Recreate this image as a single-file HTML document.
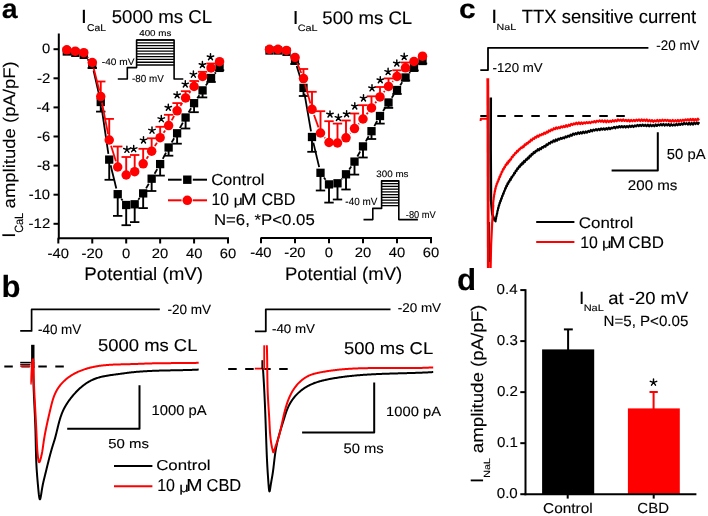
<!DOCTYPE html>
<html><head><meta charset="utf-8"><style>
html,body{margin:0;padding:0;background:#fff;overflow:hidden;}
svg{display:block;will-change:transform;-webkit-font-smoothing:antialiased;text-rendering:geometricPrecision;font-family:"Liberation Sans",sans-serif;font-kerning:none;font-variant-ligatures:none;}
text{stroke:currentColor;stroke-width:0.12px;}
</style></head><body>
<svg width="708" height="516" viewBox="0 0 708 516">
<rect width="708" height="516" fill="#fff"/>
<line x1="58.8" y1="33.5" x2="58.8" y2="239.3" stroke="#000" stroke-width="2"/>
<line x1="57.8" y1="238.3" x2="229" y2="238.3" stroke="#000" stroke-width="2"/>
<line x1="53.5" y1="49.2" x2="58.8" y2="49.2" stroke="#000" stroke-width="2"/>
<text transform="matrix(1.08,0,0,1,41.92,52.72)" font-size="13.7">0</text>
<line x1="53.5" y1="78.3" x2="58.8" y2="78.3" stroke="#000" stroke-width="2"/>
<text transform="matrix(1.08,0,0,1,36.97,82.95)" font-size="13.89">-2</text>
<line x1="53.5" y1="107.4" x2="58.8" y2="107.4" stroke="#000" stroke-width="2"/>
<text transform="matrix(1.08,0,0,1,36.47,112.05)" font-size="14.1">-4</text>
<line x1="53.5" y1="136.5" x2="58.8" y2="136.5" stroke="#000" stroke-width="2"/>
<text transform="matrix(1.08,0,0,1,37.05,141.02)" font-size="13.7">-6</text>
<line x1="53.5" y1="165.6" x2="58.8" y2="165.6" stroke="#000" stroke-width="2"/>
<text transform="matrix(1.08,0,0,1,37.05,170.12)" font-size="13.7">-8</text>
<line x1="53.5" y1="194.7" x2="58.8" y2="194.7" stroke="#000" stroke-width="2"/>
<text transform="matrix(1.08,0,0,1,28.73,199.22)" font-size="13.7">-10</text>
<line x1="53.5" y1="223.8" x2="58.8" y2="223.8" stroke="#000" stroke-width="2"/>
<text transform="matrix(1.08,0,0,1,28.6,228.45)" font-size="13.89">-12</text>
<line x1="58.32" y1="238.3" x2="58.32" y2="243.5" stroke="#000" stroke-width="2"/>
<text transform="matrix(1.08,0,0,1,47.55,257.57)" font-size="13.7">-40</text>
<line x1="92.26" y1="238.3" x2="92.26" y2="243.5" stroke="#000" stroke-width="2"/>
<text transform="matrix(1.08,0,0,1,81.49,257.57)" font-size="13.7">-20</text>
<line x1="126.2" y1="238.3" x2="126.2" y2="243.5" stroke="#000" stroke-width="2"/>
<text transform="matrix(1.08,0,0,1,122.07,257.57)" font-size="13.7">0</text>
<line x1="160.14" y1="238.3" x2="160.14" y2="243.5" stroke="#000" stroke-width="2"/>
<text transform="matrix(1.08,0,0,1,151.8,257.57)" font-size="13.7">20</text>
<line x1="194.08" y1="238.3" x2="194.08" y2="243.5" stroke="#000" stroke-width="2"/>
<text transform="matrix(1.08,0,0,1,185.94,257.57)" font-size="13.7">40</text>
<line x1="228.02" y1="238.3" x2="228.02" y2="243.5" stroke="#000" stroke-width="2"/>
<text transform="matrix(1.08,0,0,1,219.68,257.57)" font-size="13.7">60</text>
<line x1="260.5" y1="238" x2="432" y2="238" stroke="#000" stroke-width="2"/>
<line x1="261" y1="238" x2="261" y2="243.3" stroke="#000" stroke-width="2"/>
<text transform="matrix(1.08,0,0,1,250.23,257.37)" font-size="13.7">-40</text>
<line x1="295" y1="238" x2="295" y2="243.3" stroke="#000" stroke-width="2"/>
<text transform="matrix(1.08,0,0,1,284.23,257.37)" font-size="13.7">-20</text>
<line x1="329" y1="238" x2="329" y2="243.3" stroke="#000" stroke-width="2"/>
<text transform="matrix(1.08,0,0,1,324.87,257.37)" font-size="13.7">0</text>
<line x1="363" y1="238" x2="363" y2="243.3" stroke="#000" stroke-width="2"/>
<text transform="matrix(1.08,0,0,1,354.66,257.37)" font-size="13.7">20</text>
<line x1="397" y1="238" x2="397" y2="243.3" stroke="#000" stroke-width="2"/>
<text transform="matrix(1.08,0,0,1,388.86,257.37)" font-size="13.7">40</text>
<line x1="431" y1="238" x2="431" y2="243.3" stroke="#000" stroke-width="2"/>
<text transform="matrix(1.08,0,0,1,422.66,257.37)" font-size="13.7">60</text>
<line x1="87.53" y1="59.22" x2="88.51" y2="60.38" stroke="#000" stroke-width="1.8"/>
<line x1="93.55" y1="70.45" x2="99.46" y2="96.35" stroke="#000" stroke-width="1.8"/>
<line x1="101.59" y1="107.74" x2="108.38" y2="153.86" stroke="#000" stroke-width="1.8"/>
<line x1="110.61" y1="165.23" x2="116.33" y2="188.57" stroke="#000" stroke-width="1.8"/>
<line x1="121.3" y1="198.76" x2="122.62" y2="200.44" stroke="#000" stroke-width="1.8"/>
<line x1="138.25" y1="199.72" x2="139.61" y2="197.98" stroke="#000" stroke-width="1.8"/>
<line x1="146.07" y1="188.38" x2="148.76" y2="183.72" stroke="#000" stroke-width="1.8"/>
<line x1="154.57" y1="173.69" x2="157.23" y2="169.11" stroke="#000" stroke-width="1.8"/>
<line x1="162.78" y1="158.94" x2="165.99" y2="152.66" stroke="#000" stroke-width="1.8"/>
<line x1="171.6" y1="142.52" x2="174.13" y2="138.28" stroke="#000" stroke-width="1.8"/>
<line x1="179.85" y1="128.19" x2="182.85" y2="122.61" stroke="#000" stroke-width="1.8"/>
<line x1="188.55" y1="112.51" x2="191.12" y2="108.19" stroke="#000" stroke-width="1.8"/>
<line x1="197.28" y1="98.37" x2="199.36" y2="95.23" stroke="#000" stroke-width="1.8"/>
<line x1="205.84" y1="85.61" x2="207.77" y2="82.79" stroke="#000" stroke-width="1.8"/>
<line x1="214.78" y1="73.56" x2="215.8" y2="72.34" stroke="#000" stroke-width="1.8"/>
<line x1="92.26" y1="64.8" x2="92.26" y2="68" stroke="#000" stroke-width="1.9"/>
<line x1="87.56" y1="68" x2="96.96" y2="68" stroke="#000" stroke-width="1.8"/>
<line x1="100.75" y1="102" x2="100.75" y2="111.6" stroke="#000" stroke-width="1.9"/>
<line x1="96.05" y1="111.6" x2="105.45" y2="111.6" stroke="#000" stroke-width="1.8"/>
<line x1="109.23" y1="159.6" x2="109.23" y2="179.8" stroke="#000" stroke-width="1.9"/>
<line x1="104.53" y1="179.8" x2="113.93" y2="179.8" stroke="#000" stroke-width="1.8"/>
<line x1="117.72" y1="194.2" x2="117.72" y2="215.9" stroke="#000" stroke-width="1.9"/>
<line x1="113.02" y1="215.9" x2="122.42" y2="215.9" stroke="#000" stroke-width="1.8"/>
<line x1="126.2" y1="205" x2="126.2" y2="225.2" stroke="#000" stroke-width="1.9"/>
<line x1="121.5" y1="225.2" x2="130.9" y2="225.2" stroke="#000" stroke-width="1.8"/>
<line x1="134.69" y1="204.3" x2="134.69" y2="222.1" stroke="#000" stroke-width="1.9"/>
<line x1="129.99" y1="222.1" x2="139.38" y2="222.1" stroke="#000" stroke-width="1.8"/>
<line x1="143.17" y1="193.4" x2="143.17" y2="208.1" stroke="#000" stroke-width="1.9"/>
<line x1="138.47" y1="208.1" x2="147.87" y2="208.1" stroke="#000" stroke-width="1.8"/>
<line x1="151.66" y1="178.7" x2="151.66" y2="191" stroke="#000" stroke-width="1.9"/>
<line x1="146.96" y1="191" x2="156.35" y2="191" stroke="#000" stroke-width="1.8"/>
<line x1="160.14" y1="164.1" x2="160.14" y2="175.6" stroke="#000" stroke-width="1.9"/>
<line x1="155.44" y1="175.6" x2="164.84" y2="175.6" stroke="#000" stroke-width="1.8"/>
<line x1="168.62" y1="147.5" x2="168.62" y2="155.7" stroke="#000" stroke-width="1.9"/>
<line x1="163.93" y1="155.7" x2="173.32" y2="155.7" stroke="#000" stroke-width="1.8"/>
<line x1="177.11" y1="133.3" x2="177.11" y2="143.7" stroke="#000" stroke-width="1.9"/>
<line x1="172.41" y1="143.7" x2="181.81" y2="143.7" stroke="#000" stroke-width="1.8"/>
<line x1="185.59" y1="117.5" x2="185.59" y2="128.5" stroke="#000" stroke-width="1.9"/>
<line x1="180.9" y1="128.5" x2="190.29" y2="128.5" stroke="#000" stroke-width="1.8"/>
<line x1="194.08" y1="103.2" x2="194.08" y2="112.2" stroke="#000" stroke-width="1.9"/>
<line x1="189.38" y1="112.2" x2="198.78" y2="112.2" stroke="#000" stroke-width="1.8"/>
<line x1="202.56" y1="90.4" x2="202.56" y2="97.4" stroke="#000" stroke-width="1.9"/>
<line x1="197.87" y1="97.4" x2="207.26" y2="97.4" stroke="#000" stroke-width="1.8"/>
<line x1="211.05" y1="78" x2="211.05" y2="82" stroke="#000" stroke-width="1.9"/>
<line x1="206.35" y1="82" x2="215.75" y2="82" stroke="#000" stroke-width="1.8"/>
<line x1="219.54" y1="67.9" x2="219.54" y2="70.2" stroke="#000" stroke-width="1.9"/>
<line x1="214.84" y1="70.2" x2="224.24" y2="70.2" stroke="#000" stroke-width="1.8"/>
<rect x="62.66" y="47.35" width="8.3" height="8.3" fill="#000"/>
<rect x="71.14" y="48.65" width="8.3" height="8.3" fill="#000"/>
<rect x="79.62" y="50.65" width="8.3" height="8.3" fill="#000"/>
<rect x="88.11" y="60.65" width="8.3" height="8.3" fill="#000"/>
<rect x="96.59" y="97.85" width="8.3" height="8.3" fill="#000"/>
<rect x="105.08" y="155.45" width="8.3" height="8.3" fill="#000"/>
<rect x="113.56" y="190.05" width="8.3" height="8.3" fill="#000"/>
<rect x="122.05" y="200.85" width="8.3" height="8.3" fill="#000"/>
<rect x="130.53" y="200.15" width="8.3" height="8.3" fill="#000"/>
<rect x="139.02" y="189.25" width="8.3" height="8.3" fill="#000"/>
<rect x="147.5" y="174.55" width="8.3" height="8.3" fill="#000"/>
<rect x="155.99" y="159.95" width="8.3" height="8.3" fill="#000"/>
<rect x="164.47" y="143.35" width="8.3" height="8.3" fill="#000"/>
<rect x="172.96" y="129.15" width="8.3" height="8.3" fill="#000"/>
<rect x="181.44" y="113.35" width="8.3" height="8.3" fill="#000"/>
<rect x="189.93" y="99.05" width="8.3" height="8.3" fill="#000"/>
<rect x="198.41" y="86.25" width="8.3" height="8.3" fill="#000"/>
<rect x="206.9" y="73.85" width="8.3" height="8.3" fill="#000"/>
<rect x="215.39" y="63.75" width="8.3" height="8.3" fill="#000"/>
<line x1="87.7" y1="57.24" x2="88.33" y2="57.96" stroke="#ff0000" stroke-width="1.8"/>
<line x1="93.71" y1="68.32" x2="99.3" y2="90.78" stroke="#ff0000" stroke-width="1.8"/>
<line x1="101.9" y1="102.49" x2="108.08" y2="134.11" stroke="#ff0000" stroke-width="1.8"/>
<line x1="111.03" y1="145.72" x2="115.92" y2="161.28" stroke="#ff0000" stroke-width="1.8"/>
<line x1="146.52" y1="158.82" x2="148.3" y2="156.18" stroke="#ff0000" stroke-width="1.8"/>
<line x1="154.85" y1="146.12" x2="156.95" y2="142.78" stroke="#ff0000" stroke-width="1.8"/>
<line x1="163.58" y1="132.79" x2="165.18" y2="130.51" stroke="#ff0000" stroke-width="1.8"/>
<line x1="171.61" y1="120.39" x2="174.13" y2="116.01" stroke="#ff0000" stroke-width="1.8"/>
<line x1="180.41" y1="105.79" x2="182.3" y2="102.91" stroke="#ff0000" stroke-width="1.8"/>
<line x1="189.18" y1="93.09" x2="190.5" y2="91.31" stroke="#ff0000" stroke-width="1.8"/>
<line x1="197.94" y1="81.91" x2="198.71" y2="80.99" stroke="#ff0000" stroke-width="1.8"/>
<line x1="100.75" y1="96.6" x2="100.75" y2="81.5" stroke="#ff0000" stroke-width="1.9"/>
<line x1="96.05" y1="81.5" x2="105.45" y2="81.5" stroke="#ff0000" stroke-width="1.8"/>
<line x1="109.23" y1="140" x2="109.23" y2="118.9" stroke="#ff0000" stroke-width="1.9"/>
<line x1="104.53" y1="118.9" x2="113.93" y2="118.9" stroke="#ff0000" stroke-width="1.8"/>
<line x1="117.72" y1="167" x2="117.72" y2="146.5" stroke="#ff0000" stroke-width="1.9"/>
<line x1="113.02" y1="146.5" x2="122.42" y2="146.5" stroke="#ff0000" stroke-width="1.8"/>
<line x1="126.2" y1="175" x2="126.2" y2="157" stroke="#ff0000" stroke-width="1.9"/>
<line x1="121.5" y1="157" x2="130.9" y2="157" stroke="#ff0000" stroke-width="1.8"/>
<line x1="134.69" y1="171.7" x2="134.69" y2="155" stroke="#ff0000" stroke-width="1.9"/>
<line x1="129.99" y1="155" x2="139.38" y2="155" stroke="#ff0000" stroke-width="1.8"/>
<line x1="143.17" y1="163.8" x2="143.17" y2="148.8" stroke="#ff0000" stroke-width="1.9"/>
<line x1="138.47" y1="148.8" x2="147.87" y2="148.8" stroke="#ff0000" stroke-width="1.8"/>
<line x1="151.66" y1="151.2" x2="151.66" y2="138.3" stroke="#ff0000" stroke-width="1.9"/>
<line x1="146.96" y1="138.3" x2="156.35" y2="138.3" stroke="#ff0000" stroke-width="1.8"/>
<line x1="160.14" y1="137.7" x2="160.14" y2="126.8" stroke="#ff0000" stroke-width="1.9"/>
<line x1="155.44" y1="126.8" x2="164.84" y2="126.8" stroke="#ff0000" stroke-width="1.8"/>
<line x1="168.62" y1="125.6" x2="168.62" y2="114.8" stroke="#ff0000" stroke-width="1.9"/>
<line x1="163.93" y1="114.8" x2="173.32" y2="114.8" stroke="#ff0000" stroke-width="1.8"/>
<line x1="177.11" y1="110.8" x2="177.11" y2="103.1" stroke="#ff0000" stroke-width="1.9"/>
<line x1="172.41" y1="103.1" x2="181.81" y2="103.1" stroke="#ff0000" stroke-width="1.8"/>
<line x1="185.59" y1="97.9" x2="185.59" y2="91.2" stroke="#ff0000" stroke-width="1.9"/>
<line x1="180.9" y1="91.2" x2="190.29" y2="91.2" stroke="#ff0000" stroke-width="1.8"/>
<line x1="194.08" y1="86.5" x2="194.08" y2="81" stroke="#ff0000" stroke-width="1.9"/>
<line x1="189.38" y1="81" x2="198.78" y2="81" stroke="#ff0000" stroke-width="1.8"/>
<line x1="202.56" y1="76.4" x2="202.56" y2="71.8" stroke="#ff0000" stroke-width="1.9"/>
<line x1="197.87" y1="71.8" x2="207.26" y2="71.8" stroke="#ff0000" stroke-width="1.8"/>
<line x1="211.05" y1="67.9" x2="211.05" y2="63.5" stroke="#ff0000" stroke-width="1.9"/>
<line x1="206.35" y1="63.5" x2="215.75" y2="63.5" stroke="#ff0000" stroke-width="1.8"/>
<circle cx="66.81" cy="49.8" r="4.75" fill="#f00"/>
<circle cx="75.29" cy="51.2" r="4.75" fill="#f00"/>
<circle cx="83.78" cy="52.7" r="4.75" fill="#f00"/>
<circle cx="92.26" cy="62.5" r="4.75" fill="#f00"/>
<circle cx="100.75" cy="96.6" r="4.75" fill="#f00"/>
<circle cx="109.23" cy="140" r="4.75" fill="#f00"/>
<circle cx="117.72" cy="167" r="4.75" fill="#f00"/>
<circle cx="126.2" cy="175" r="4.75" fill="#f00"/>
<circle cx="134.69" cy="171.7" r="4.75" fill="#f00"/>
<circle cx="143.17" cy="163.8" r="4.75" fill="#f00"/>
<circle cx="151.66" cy="151.2" r="4.75" fill="#f00"/>
<circle cx="160.14" cy="137.7" r="4.75" fill="#f00"/>
<circle cx="168.62" cy="125.6" r="4.75" fill="#f00"/>
<circle cx="177.11" cy="110.8" r="4.75" fill="#f00"/>
<circle cx="185.59" cy="97.9" r="4.75" fill="#f00"/>
<circle cx="194.08" cy="86.5" r="4.75" fill="#f00"/>
<circle cx="202.56" cy="76.4" r="4.75" fill="#f00"/>
<circle cx="211.05" cy="67.9" r="4.75" fill="#f00"/>
<circle cx="219.54" cy="61.7" r="4.75" fill="#f00"/>
<path d="M126.9,149.6 L126.9,146.2 M126.9,149.6 L130.13,148.55 M126.9,149.6 L128.9,152.35 M126.9,149.6 L124.9,152.35 M126.9,149.6 L123.67,148.55" stroke="#000" stroke-width="1.45" stroke-linecap="round" fill="none"/>
<path d="M133.7,148.9 L133.7,145.5 M133.7,148.9 L136.93,147.85 M133.7,148.9 L135.7,151.65 M133.7,148.9 L131.7,151.65 M133.7,148.9 L130.47,147.85" stroke="#000" stroke-width="1.45" stroke-linecap="round" fill="none"/>
<path d="M143.5,140.2 L143.5,136.8 M143.5,140.2 L146.73,139.15 M143.5,140.2 L145.5,142.95 M143.5,140.2 L141.5,142.95 M143.5,140.2 L140.27,139.15" stroke="#000" stroke-width="1.45" stroke-linecap="round" fill="none"/>
<path d="M152,130.4 L152,127 M152,130.4 L155.23,129.35 M152,130.4 L154,133.15 M152,130.4 L150,133.15 M152,130.4 L148.77,129.35" stroke="#000" stroke-width="1.45" stroke-linecap="round" fill="none"/>
<path d="M161.3,118.9 L161.3,115.5 M161.3,118.9 L164.53,117.85 M161.3,118.9 L163.3,121.65 M161.3,118.9 L159.3,121.65 M161.3,118.9 L158.07,117.85" stroke="#000" stroke-width="1.45" stroke-linecap="round" fill="none"/>
<path d="M168.3,107.5 L168.3,104.1 M168.3,107.5 L171.53,106.45 M168.3,107.5 L170.3,110.25 M168.3,107.5 L166.3,110.25 M168.3,107.5 L165.07,106.45" stroke="#000" stroke-width="1.45" stroke-linecap="round" fill="none"/>
<path d="M177.1,95 L177.1,91.6 M177.1,95 L180.33,93.95 M177.1,95 L179.1,97.75 M177.1,95 L175.1,97.75 M177.1,95 L173.87,93.95" stroke="#000" stroke-width="1.45" stroke-linecap="round" fill="none"/>
<path d="M185.3,84.2 L185.3,80.8 M185.3,84.2 L188.53,83.15 M185.3,84.2 L187.3,86.95 M185.3,84.2 L183.3,86.95 M185.3,84.2 L182.07,83.15" stroke="#000" stroke-width="1.45" stroke-linecap="round" fill="none"/>
<path d="M193.4,74.4 L193.4,71 M193.4,74.4 L196.63,73.35 M193.4,74.4 L195.4,77.15 M193.4,74.4 L191.4,77.15 M193.4,74.4 L190.17,73.35" stroke="#000" stroke-width="1.45" stroke-linecap="round" fill="none"/>
<path d="M202.4,64.8 L202.4,61.4 M202.4,64.8 L205.63,63.75 M202.4,64.8 L204.4,67.55 M202.4,64.8 L200.4,67.55 M202.4,64.8 L199.17,63.75" stroke="#000" stroke-width="1.45" stroke-linecap="round" fill="none"/>
<path d="M210.5,57 L210.5,53.6 M210.5,57 L213.73,55.95 M210.5,57 L212.5,59.75 M210.5,57 L208.5,59.75 M210.5,57 L207.27,55.95" stroke="#000" stroke-width="1.45" stroke-linecap="round" fill="none"/>
<line x1="290.55" y1="55.95" x2="290.95" y2="56.35" stroke="#000" stroke-width="1.8"/>
<line x1="296.72" y1="66.04" x2="301.78" y2="82.36" stroke="#000" stroke-width="1.8"/>
<line x1="304.49" y1="93.61" x2="311.01" y2="131.29" stroke="#000" stroke-width="1.8"/>
<line x1="313.34" y1="142.64" x2="319.16" y2="167.16" stroke="#000" stroke-width="1.8"/>
<line x1="323.93" y1="177.48" x2="325.57" y2="179.72" stroke="#000" stroke-width="1.8"/>
<line x1="341.48" y1="179.08" x2="342.02" y2="178.52" stroke="#000" stroke-width="1.8"/>
<line x1="349.23" y1="169.48" x2="351.27" y2="166.42" stroke="#000" stroke-width="1.8"/>
<line x1="357.33" y1="156.54" x2="360.17" y2="151.46" stroke="#000" stroke-width="1.8"/>
<line x1="365.83" y1="141.34" x2="368.67" y2="136.26" stroke="#000" stroke-width="1.8"/>
<line x1="374.33" y1="126.14" x2="377.17" y2="121.06" stroke="#000" stroke-width="1.8"/>
<line x1="383.09" y1="111.09" x2="385.41" y2="107.41" stroke="#000" stroke-width="1.8"/>
<line x1="391.76" y1="97.7" x2="393.74" y2="94.8" stroke="#000" stroke-width="1.8"/>
<line x1="400.26" y1="85.2" x2="402.24" y2="82.3" stroke="#000" stroke-width="1.8"/>
<line x1="409.32" y1="73.14" x2="410.18" y2="72.16" stroke="#000" stroke-width="1.8"/>
<line x1="295" y1="60.5" x2="295" y2="64" stroke="#000" stroke-width="1.9"/>
<line x1="290.3" y1="64" x2="299.7" y2="64" stroke="#000" stroke-width="1.8"/>
<line x1="303.5" y1="87.9" x2="303.5" y2="96" stroke="#000" stroke-width="1.9"/>
<line x1="298.8" y1="96" x2="308.2" y2="96" stroke="#000" stroke-width="1.8"/>
<line x1="312" y1="137" x2="312" y2="151.8" stroke="#000" stroke-width="1.9"/>
<line x1="307.3" y1="151.8" x2="316.7" y2="151.8" stroke="#000" stroke-width="1.8"/>
<line x1="320.5" y1="172.8" x2="320.5" y2="190.5" stroke="#000" stroke-width="1.9"/>
<line x1="315.8" y1="190.5" x2="325.2" y2="190.5" stroke="#000" stroke-width="1.8"/>
<line x1="329" y1="184.4" x2="329" y2="202.6" stroke="#000" stroke-width="1.9"/>
<line x1="324.3" y1="202.6" x2="333.7" y2="202.6" stroke="#000" stroke-width="1.8"/>
<line x1="337.5" y1="183.3" x2="337.5" y2="199.5" stroke="#000" stroke-width="1.9"/>
<line x1="332.8" y1="199.5" x2="342.2" y2="199.5" stroke="#000" stroke-width="1.8"/>
<line x1="346" y1="174.3" x2="346" y2="189.5" stroke="#000" stroke-width="1.9"/>
<line x1="341.3" y1="189.5" x2="350.7" y2="189.5" stroke="#000" stroke-width="1.8"/>
<line x1="354.5" y1="161.6" x2="354.5" y2="174.6" stroke="#000" stroke-width="1.9"/>
<line x1="349.8" y1="174.6" x2="359.2" y2="174.6" stroke="#000" stroke-width="1.8"/>
<line x1="363" y1="146.4" x2="363" y2="157.5" stroke="#000" stroke-width="1.9"/>
<line x1="358.3" y1="157.5" x2="367.7" y2="157.5" stroke="#000" stroke-width="1.8"/>
<line x1="371.5" y1="131.2" x2="371.5" y2="139" stroke="#000" stroke-width="1.9"/>
<line x1="366.8" y1="139" x2="376.2" y2="139" stroke="#000" stroke-width="1.8"/>
<line x1="380" y1="116" x2="380" y2="123.6" stroke="#000" stroke-width="1.9"/>
<line x1="375.3" y1="123.6" x2="384.7" y2="123.6" stroke="#000" stroke-width="1.8"/>
<line x1="388.5" y1="102.5" x2="388.5" y2="107.9" stroke="#000" stroke-width="1.9"/>
<line x1="383.8" y1="107.9" x2="393.2" y2="107.9" stroke="#000" stroke-width="1.8"/>
<line x1="397" y1="90" x2="397" y2="94" stroke="#000" stroke-width="1.9"/>
<line x1="392.3" y1="94" x2="401.7" y2="94" stroke="#000" stroke-width="1.8"/>
<line x1="405.5" y1="77.5" x2="405.5" y2="80.5" stroke="#000" stroke-width="1.9"/>
<line x1="400.8" y1="80.5" x2="410.2" y2="80.5" stroke="#000" stroke-width="1.8"/>
<line x1="414" y1="67.8" x2="414" y2="70.5" stroke="#000" stroke-width="1.9"/>
<line x1="409.3" y1="70.5" x2="418.7" y2="70.5" stroke="#000" stroke-width="1.8"/>
<line x1="422.5" y1="61" x2="422.5" y2="63.5" stroke="#000" stroke-width="1.9"/>
<line x1="417.8" y1="63.5" x2="427.2" y2="63.5" stroke="#000" stroke-width="1.8"/>
<rect x="265.35" y="46.35" width="8.3" height="8.3" fill="#000"/>
<rect x="273.85" y="46.35" width="8.3" height="8.3" fill="#000"/>
<rect x="282.35" y="47.65" width="8.3" height="8.3" fill="#000"/>
<rect x="290.85" y="56.35" width="8.3" height="8.3" fill="#000"/>
<rect x="299.35" y="83.75" width="8.3" height="8.3" fill="#000"/>
<rect x="307.85" y="132.85" width="8.3" height="8.3" fill="#000"/>
<rect x="316.35" y="168.65" width="8.3" height="8.3" fill="#000"/>
<rect x="324.85" y="180.25" width="8.3" height="8.3" fill="#000"/>
<rect x="333.35" y="179.15" width="8.3" height="8.3" fill="#000"/>
<rect x="341.85" y="170.15" width="8.3" height="8.3" fill="#000"/>
<rect x="350.35" y="157.45" width="8.3" height="8.3" fill="#000"/>
<rect x="358.85" y="142.25" width="8.3" height="8.3" fill="#000"/>
<rect x="367.35" y="127.05" width="8.3" height="8.3" fill="#000"/>
<rect x="375.85" y="111.85" width="8.3" height="8.3" fill="#000"/>
<rect x="384.35" y="98.35" width="8.3" height="8.3" fill="#000"/>
<rect x="392.85" y="85.85" width="8.3" height="8.3" fill="#000"/>
<rect x="401.35" y="73.35" width="8.3" height="8.3" fill="#000"/>
<rect x="409.85" y="63.65" width="8.3" height="8.3" fill="#000"/>
<rect x="418.35" y="56.85" width="8.3" height="8.3" fill="#000"/>
<line x1="297.23" y1="62.97" x2="301.27" y2="73.03" stroke="#ff0000" stroke-width="1.8"/>
<line x1="305.1" y1="84.38" x2="310.4" y2="103.52" stroke="#ff0000" stroke-width="1.8"/>
<line x1="314.03" y1="114.95" x2="318.47" y2="127.35" stroke="#ff0000" stroke-width="1.8"/>
<line x1="324.5" y1="137.47" x2="325" y2="138.03" stroke="#ff0000" stroke-width="1.8"/>
<line x1="350.07" y1="133.39" x2="350.43" y2="133.01" stroke="#ff0000" stroke-width="1.8"/>
<line x1="358.48" y1="124.11" x2="359.02" y2="123.49" stroke="#ff0000" stroke-width="1.8"/>
<line x1="366.65" y1="114.24" x2="367.85" y2="112.66" stroke="#ff0000" stroke-width="1.8"/>
<line x1="375.17" y1="103.15" x2="376.33" y2="101.65" stroke="#ff0000" stroke-width="1.8"/>
<line x1="383.78" y1="92.24" x2="384.72" y2="91.06" stroke="#ff0000" stroke-width="1.8"/>
<line x1="392.41" y1="81.85" x2="393.09" y2="81.05" stroke="#ff0000" stroke-width="1.8"/>
<line x1="303.5" y1="78.6" x2="303.5" y2="69" stroke="#ff0000" stroke-width="1.9"/>
<line x1="298.8" y1="69" x2="308.2" y2="69" stroke="#ff0000" stroke-width="1.8"/>
<line x1="312" y1="109.3" x2="312" y2="91.8" stroke="#ff0000" stroke-width="1.9"/>
<line x1="307.3" y1="91.8" x2="316.7" y2="91.8" stroke="#ff0000" stroke-width="1.8"/>
<line x1="320.5" y1="133" x2="320.5" y2="111.2" stroke="#ff0000" stroke-width="1.9"/>
<line x1="315.8" y1="111.2" x2="325.2" y2="111.2" stroke="#ff0000" stroke-width="1.8"/>
<line x1="329" y1="142.5" x2="329" y2="121.2" stroke="#ff0000" stroke-width="1.9"/>
<line x1="324.3" y1="121.2" x2="333.7" y2="121.2" stroke="#ff0000" stroke-width="1.8"/>
<line x1="337.5" y1="143" x2="337.5" y2="123.6" stroke="#ff0000" stroke-width="1.9"/>
<line x1="332.8" y1="123.6" x2="342.2" y2="123.6" stroke="#ff0000" stroke-width="1.8"/>
<line x1="346" y1="137.8" x2="346" y2="120.5" stroke="#ff0000" stroke-width="1.9"/>
<line x1="341.3" y1="120.5" x2="350.7" y2="120.5" stroke="#ff0000" stroke-width="1.8"/>
<line x1="354.5" y1="128.6" x2="354.5" y2="113.5" stroke="#ff0000" stroke-width="1.9"/>
<line x1="349.8" y1="113.5" x2="359.2" y2="113.5" stroke="#ff0000" stroke-width="1.8"/>
<line x1="363" y1="119" x2="363" y2="105.2" stroke="#ff0000" stroke-width="1.9"/>
<line x1="358.3" y1="105.2" x2="367.7" y2="105.2" stroke="#ff0000" stroke-width="1.8"/>
<line x1="371.5" y1="107.9" x2="371.5" y2="96.3" stroke="#ff0000" stroke-width="1.9"/>
<line x1="366.8" y1="96.3" x2="376.2" y2="96.3" stroke="#ff0000" stroke-width="1.8"/>
<line x1="380" y1="96.9" x2="380" y2="87" stroke="#ff0000" stroke-width="1.9"/>
<line x1="375.3" y1="87" x2="384.7" y2="87" stroke="#ff0000" stroke-width="1.8"/>
<line x1="388.5" y1="86.4" x2="388.5" y2="78.4" stroke="#ff0000" stroke-width="1.9"/>
<line x1="383.8" y1="78.4" x2="393.2" y2="78.4" stroke="#ff0000" stroke-width="1.8"/>
<line x1="397" y1="76.5" x2="397" y2="70.3" stroke="#ff0000" stroke-width="1.9"/>
<line x1="392.3" y1="70.3" x2="401.7" y2="70.3" stroke="#ff0000" stroke-width="1.8"/>
<line x1="405.5" y1="67.8" x2="405.5" y2="62.5" stroke="#ff0000" stroke-width="1.9"/>
<line x1="400.8" y1="62.5" x2="410.2" y2="62.5" stroke="#ff0000" stroke-width="1.8"/>
<circle cx="269.5" cy="49.3" r="4.75" fill="#f00"/>
<circle cx="278" cy="49.3" r="4.75" fill="#f00"/>
<circle cx="286.5" cy="50.4" r="4.75" fill="#f00"/>
<circle cx="295" cy="57.4" r="4.75" fill="#f00"/>
<circle cx="303.5" cy="78.6" r="4.75" fill="#f00"/>
<circle cx="312" cy="109.3" r="4.75" fill="#f00"/>
<circle cx="320.5" cy="133" r="4.75" fill="#f00"/>
<circle cx="329" cy="142.5" r="4.75" fill="#f00"/>
<circle cx="337.5" cy="143" r="4.75" fill="#f00"/>
<circle cx="346" cy="137.8" r="4.75" fill="#f00"/>
<circle cx="354.5" cy="128.6" r="4.75" fill="#f00"/>
<circle cx="363" cy="119" r="4.75" fill="#f00"/>
<circle cx="371.5" cy="107.9" r="4.75" fill="#f00"/>
<circle cx="380" cy="96.9" r="4.75" fill="#f00"/>
<circle cx="388.5" cy="86.4" r="4.75" fill="#f00"/>
<circle cx="397" cy="76.5" r="4.75" fill="#f00"/>
<circle cx="405.5" cy="67.8" r="4.75" fill="#f00"/>
<circle cx="414" cy="61.4" r="4.75" fill="#f00"/>
<circle cx="422.5" cy="56.2" r="4.75" fill="#f00"/>
<path d="M330,114.3 L330,110.9 M330,114.3 L333.23,113.25 M330,114.3 L332,117.05 M330,114.3 L328,117.05 M330,114.3 L326.77,113.25" stroke="#000" stroke-width="1.45" stroke-linecap="round" fill="none"/>
<path d="M338.4,117.7 L338.4,114.3 M338.4,117.7 L341.63,116.65 M338.4,117.7 L340.4,120.45 M338.4,117.7 L336.4,120.45 M338.4,117.7 L335.17,116.65" stroke="#000" stroke-width="1.45" stroke-linecap="round" fill="none"/>
<path d="M346.6,114 L346.6,110.6 M346.6,114 L349.83,112.95 M346.6,114 L348.6,116.75 M346.6,114 L344.6,116.75 M346.6,114 L343.37,112.95" stroke="#000" stroke-width="1.45" stroke-linecap="round" fill="none"/>
<path d="M354.8,106.2 L354.8,102.8 M354.8,106.2 L358.03,105.15 M354.8,106.2 L356.8,108.95 M354.8,106.2 L352.8,108.95 M354.8,106.2 L351.57,105.15" stroke="#000" stroke-width="1.45" stroke-linecap="round" fill="none"/>
<path d="M363.5,98.2 L363.5,94.8 M363.5,98.2 L366.73,97.15 M363.5,98.2 L365.5,100.95 M363.5,98.2 L361.5,100.95 M363.5,98.2 L360.27,97.15" stroke="#000" stroke-width="1.45" stroke-linecap="round" fill="none"/>
<path d="M372,88.1 L372,84.7 M372,88.1 L375.23,87.05 M372,88.1 L374,90.85 M372,88.1 L370,90.85 M372,88.1 L368.77,87.05" stroke="#000" stroke-width="1.45" stroke-linecap="round" fill="none"/>
<path d="M380.3,80 L380.3,76.6 M380.3,80 L383.53,78.95 M380.3,80 L382.3,82.75 M380.3,80 L378.3,82.75 M380.3,80 L377.07,78.95" stroke="#000" stroke-width="1.45" stroke-linecap="round" fill="none"/>
<path d="M388.1,71.7 L388.1,68.3 M388.1,71.7 L391.33,70.65 M388.1,71.7 L390.1,74.45 M388.1,71.7 L386.1,74.45 M388.1,71.7 L384.87,70.65" stroke="#000" stroke-width="1.45" stroke-linecap="round" fill="none"/>
<path d="M396.8,63.3 L396.8,59.9 M396.8,63.3 L400.03,62.25 M396.8,63.3 L398.8,66.05 M396.8,63.3 L394.8,66.05 M396.8,63.3 L393.57,62.25" stroke="#000" stroke-width="1.45" stroke-linecap="round" fill="none"/>
<path d="M404.2,56.7 L404.2,53.3 M404.2,56.7 L407.43,55.65 M404.2,56.7 L406.2,59.45 M404.2,56.7 L402.2,59.45 M404.2,56.7 L400.97,55.65" stroke="#000" stroke-width="1.45" stroke-linecap="round" fill="none"/>
<text transform="matrix(1.1,0,0,1,80.95,23.1)" font-size="19.19">I</text>
<text transform="matrix(1.05,0,0,1,87.07,30.6)" font-size="9.89">CaL</text>
<text transform="matrix(1,0,0,1,111.66,22.92)" font-size="18.64">5000 ms CL</text>
<text transform="matrix(1.1,0,0,1,292.7,23.9)" font-size="18.75">I</text>
<text transform="matrix(1.18,0,0,1,297.75,31.21)" font-size="9.18">CaL</text>
<text transform="matrix(1.02,0,0,1,322.36,23.72)" font-size="18.22">500 ms CL</text>
<text transform="rotate(-90) matrix(1,0,0,1,-237.79,15)" font-size="18.31">I</text>
<text transform="rotate(-90) matrix(0.9,0,0,1,-232.85,22.88)" font-size="12.01">CaL</text>
<text transform="rotate(-90) matrix(1.1,0,0,1,-208.39,14.9)" font-size="16.84">amplitude (pA/pF)</text>
<text transform="matrix(1.04,0,0,1,84.37,279.9)" font-size="18.02">Potential (mV)</text>
<text transform="matrix(1.02,0,0,1,284.88,279.8)" font-size="18.17">Potential (mV)</text>
<polyline points="117.8,79 127.3,79 127.3,67.6 136.6,67.6 136.6,40 174.1,40 174.1,79 183.3,79" fill="none" stroke="#000" stroke-width="1.6" stroke-linejoin="round"/>
<line x1="136.6" y1="40" x2="174.1" y2="40" stroke="#000" stroke-width="1.3"/>
<line x1="136.6" y1="42.78" x2="174.1" y2="42.78" stroke="#000" stroke-width="1.3"/>
<line x1="136.6" y1="45.56" x2="174.1" y2="45.56" stroke="#000" stroke-width="1.3"/>
<line x1="136.6" y1="48.34" x2="174.1" y2="48.34" stroke="#000" stroke-width="1.3"/>
<line x1="136.6" y1="51.12" x2="174.1" y2="51.12" stroke="#000" stroke-width="1.3"/>
<line x1="136.6" y1="53.9" x2="174.1" y2="53.9" stroke="#000" stroke-width="1.3"/>
<line x1="136.6" y1="56.68" x2="174.1" y2="56.68" stroke="#000" stroke-width="1.3"/>
<line x1="136.6" y1="59.46" x2="174.1" y2="59.46" stroke="#000" stroke-width="1.3"/>
<line x1="136.6" y1="62.24" x2="174.1" y2="62.24" stroke="#000" stroke-width="1.3"/>
<line x1="136.6" y1="65.02" x2="174.1" y2="65.02" stroke="#000" stroke-width="1.3"/>
<text transform="matrix(1.14,0,0,1,139.18,36.32)" font-size="8.62">400 ms</text>
<text transform="matrix(1.07,0,0,1,101.85,64.91)" font-size="9.46">-40 mV</text>
<text transform="matrix(0.97,0,0,1,131.96,81.9)" font-size="10.17">-80 mV</text>
<polyline points="363.5,219.6 372.8,219.6 372.8,208.4 381.6,208.4 381.6,180.9 398.8,180.9 398.8,219.6 417.9,219.6" fill="none" stroke="#000" stroke-width="1.6" stroke-linejoin="round"/>
<line x1="381.6" y1="180.9" x2="398.8" y2="180.9" stroke="#000" stroke-width="1.3"/>
<line x1="381.6" y1="183.65" x2="398.8" y2="183.65" stroke="#000" stroke-width="1.3"/>
<line x1="381.6" y1="186.4" x2="398.8" y2="186.4" stroke="#000" stroke-width="1.3"/>
<line x1="381.6" y1="189.15" x2="398.8" y2="189.15" stroke="#000" stroke-width="1.3"/>
<line x1="381.6" y1="191.9" x2="398.8" y2="191.9" stroke="#000" stroke-width="1.3"/>
<line x1="381.6" y1="194.65" x2="398.8" y2="194.65" stroke="#000" stroke-width="1.3"/>
<line x1="381.6" y1="197.4" x2="398.8" y2="197.4" stroke="#000" stroke-width="1.3"/>
<line x1="381.6" y1="200.15" x2="398.8" y2="200.15" stroke="#000" stroke-width="1.3"/>
<line x1="381.6" y1="202.9" x2="398.8" y2="202.9" stroke="#000" stroke-width="1.3"/>
<line x1="381.6" y1="205.65" x2="398.8" y2="205.65" stroke="#000" stroke-width="1.3"/>
<text transform="matrix(1.07,0,0,1,376.32,176.61)" font-size="9.18">300 ms</text>
<text transform="matrix(0.96,0,0,1,345.36,205.2)" font-size="10.31">-40 mV</text>
<text transform="matrix(0.94,0,0,1,405.79,217.9)" font-size="9.89">-80 mV</text>
<line x1="168" y1="179.7" x2="181.6" y2="179.7" stroke="#000" stroke-width="2"/>
<line x1="192.8" y1="179.7" x2="207" y2="179.7" stroke="#000" stroke-width="2"/>
<rect x="183.1" y="175.5" width="8.4" height="8.4" fill="#000"/>
<line x1="168" y1="200.3" x2="181.6" y2="200.3" stroke="#ff0000" stroke-width="2"/>
<line x1="192.8" y1="200.3" x2="207" y2="200.3" stroke="#ff0000" stroke-width="2"/>
<circle cx="187.3" cy="200.3" r="4.8" fill="#f00"/>
<text transform="matrix(1.04,0,0,1,211.16,185.34)" font-size="15.93">Control</text>
<text transform="matrix(0.91,0,0,1,211.51,205.23)" font-size="17.23">10</text>
<text transform="matrix(1.16,0,0,1,233.85,205.22)" font-size="13.47">μ</text>
<text transform="matrix(1.11,0,0,1,240.74,205.2)" font-size="17.15">M</text>
<text transform="matrix(0.94,0,0,1,261.38,205.2)" font-size="17.15">CBD</text>
<text transform="matrix(1.07,0,0,1,213.93,225.4)" font-size="15.7">N=6, *P&lt;0.05</text>
<text transform="matrix(1.05,0,0,1,1.66,18.13)" font-size="27.2" font-weight="bold">a</text>
<text transform="matrix(1.02,0,0,1,1.55,297.3)" font-size="30.5" font-weight="bold">b</text>
<text transform="matrix(1.12,0,0,1,458.92,18.14)" font-size="26.83" font-weight="bold">c</text>
<text transform="matrix(1.03,0,0,1,457.11,289.8)" font-size="30.37" font-weight="bold">d</text>
<polyline points="20.2,330.9 31.6,330.9 31.6,309.4 159.8,309.4" fill="none" stroke="#000" stroke-width="1.7" stroke-linejoin="round"/>
<text transform="matrix(1,0,0,1,167.4,314.17)" font-size="13.56">-20 mV</text>
<text transform="matrix(0.98,0,0,1,38,333.77)" font-size="13.7">-40 mV</text>
<text transform="matrix(1.07,0,0,1,98.06,351.03)" font-size="17.23">5000 ms CL</text>
<line x1="4.3" y1="366.4" x2="66" y2="366.4" stroke="#000" stroke-width="2" stroke-dasharray="8.5 8.5"/>
<line x1="20.2" y1="362.6" x2="30.9" y2="362.6" stroke="#000" stroke-width="1.6"/>
<line x1="20.2" y1="366.1" x2="30.5" y2="366.1" stroke="#ff0000" stroke-width="1.6"/>
<line x1="32.8" y1="344.8" x2="32.8" y2="368" stroke="#000" stroke-width="3.4"/>
<polyline points="33.21,366 33.2,366.72 33.2,367.44 33.2,368.15 33.21,368.87 33.21,369.58 33.22,370.3 33.22,371.01 33.23,371.72 33.24,372.43 33.24,373.14 33.25,373.84 33.26,374.55 33.28,375.26 33.29,375.96 33.3,376.66 33.32,377.37 33.33,378.07 33.35,378.77 33.37,379.47 33.38,380.17 33.4,380.87 33.42,381.57 33.44,382.27 33.46,382.96 33.48,383.66 33.51,384.36 33.53,385.05 33.55,385.75 33.58,386.44 33.6,387.13 33.63,387.83 33.65,388.52 33.68,389.21 33.71,389.9 33.73,390.6 33.76,391.29 33.79,391.98 33.82,392.67 33.85,393.36 33.88,394.05 33.91,394.74 33.94,395.43 33.97,396.12 34,396.81 34.03,397.5 34.07,398.19 34.1,398.88 34.13,399.57 34.16,400.26 34.2,400.95 34.23,401.64 34.26,402.33 34.29,403.02 34.33,403.71 34.36,404.4 34.39,405.09 34.43,405.78 34.46,406.47 34.49,407.17 34.53,407.86 34.56,408.55 34.59,409.24 34.63,409.94 34.66,410.63 34.69,411.32 34.73,412.02 34.76,412.71 34.79,413.41 34.82,414.11 34.86,414.8 34.89,415.5 34.92,416.2 34.95,416.9 34.98,417.6 35.01,418.3 35.04,419 35.07,419.7 35.1,420.4 35.13,421.11 35.16,421.81 35.19,422.52 35.21,423.22 35.24,423.93 35.27,424.64 35.29,425.35 35.32,426.06 35.34,426.77 35.37,427.48 35.39,428.19 35.42,428.91 35.44,429.63 35.46,430.34 35.48,431.06 35.5,431.78 35.52,432.5 35.54,433.22 35.56,433.94 35.58,434.66 35.59,435.39 35.61,436.11 35.63,436.83 35.64,437.55 35.66,438.27 35.68,439 35.69,439.72 35.71,440.44 35.72,441.16 35.74,441.87 35.75,442.59 35.77,443.31 35.78,444.02 35.8,444.73 35.81,445.44 35.83,446.15 35.84,446.86 35.86,447.56 35.87,448.26 35.89,448.96 35.9,449.66 35.92,450.36 35.93,451.05 35.95,451.73 35.97,452.42 35.98,453.1 36,453.78 36.02,454.45 36.04,455.12 36.06,455.79 36.08,456.45 36.1,457.11 36.12,457.76 36.14,458.41 36.17,459.06 36.19,459.7 36.21,460.33 36.24,460.96 36.27,461.59 36.29,462.21 36.32,462.83 36.35,463.45 36.38,464.06 36.41,464.68 36.44,465.29 36.48,465.91 36.51,466.52 36.55,467.14 36.58,467.76 36.62,468.38 36.66,469.01 36.7,469.64 36.74,470.27 36.79,470.91 36.83,471.56 36.88,472.21 36.93,472.87 36.98,473.54 37.03,474.22 37.08,474.9 37.13,475.6 37.19,476.3 37.25,477.02 37.31,477.75 37.37,478.49 37.43,479.24 37.5,480.01 37.57,480.79 37.64,481.58 37.71,482.39 37.78,483.22 37.85,484.06 37.93,484.92 38.01,485.8 38.09,486.7 38.18,487.61 38.26,488.55 38.35,489.5 38.44,490.46 38.53,491.41 38.63,492.36 38.73,493.28 38.82,494.17 38.93,495.02 39.03,495.82 39.13,496.57 39.24,497.24 39.35,497.84 39.46,498.35 39.57,498.77 39.69,499.08 39.8,499.27 39.92,499.35 40.04,499.29 40.16,499.1 40.28,498.79 40.41,498.38 40.53,497.87 40.66,497.28 40.79,496.61 40.92,495.88 41.05,495.09 41.19,494.27 41.32,493.4 41.46,492.52 41.6,491.63 41.73,490.73 41.87,489.85 42.02,488.98 42.16,488.14 42.3,487.33 42.45,486.54 42.59,485.77 42.74,485.02 42.88,484.29 43.03,483.58 43.18,482.88 43.33,482.2 43.48,481.53 43.64,480.87 43.79,480.22 43.94,479.57 44.1,478.93 44.25,478.3 44.41,477.67 44.56,477.03 44.72,476.4 44.88,475.77 45.04,475.13 45.2,474.49 45.35,473.84 45.51,473.19 45.67,472.54 45.84,471.88 46,471.22 46.16,470.55 46.32,469.89 46.49,469.22 46.65,468.54 46.82,467.87 46.98,467.19 47.15,466.51 47.32,465.83 47.48,465.14 47.65,464.45 47.82,463.77 47.99,463.08 48.17,462.39 48.34,461.7 48.51,461 48.69,460.31 48.86,459.62 49.04,458.93 49.22,458.23 49.4,457.54 49.58,456.85 49.76,456.16 49.94,455.47 50.13,454.77 50.31,454.09 50.5,453.4 50.69,452.71 50.88,452.03 51.07,451.34 51.26,450.66 51.45,449.98 51.65,449.3 51.84,448.63 52.04,447.96 52.24,447.29 52.44,446.62 52.64,445.96 52.84,445.3 53.05,444.65 53.26,444 53.46,443.35 53.67,442.7 53.88,442.05 54.08,441.41 54.28,440.76 54.48,440.11 54.68,439.45 54.87,438.8 55.06,438.14 55.24,437.47 55.42,436.8 55.6,436.13 55.77,435.46 55.95,434.79 56.12,434.11 56.29,433.43 56.46,432.75 56.62,432.07 56.79,431.38 56.95,430.7 57.12,430.01 57.28,429.32 57.45,428.64 57.61,427.95 57.78,427.26 57.95,426.57 58.12,425.88 58.29,425.19 58.46,424.51 58.64,423.82 58.82,423.13 59,422.45 59.19,421.76 59.38,421.08 59.57,420.4 59.76,419.72 59.97,419.05 60.17,418.37 60.38,417.7 60.6,417.03 60.82,416.37 61.05,415.7 61.29,415.04 61.53,414.39 61.77,413.73 62.03,413.08 62.29,412.44 62.56,411.8 62.84,411.16 63.13,410.53 63.42,409.9 63.72,409.28 64.03,408.66 64.35,408.05 64.68,407.44 65.01,406.83 65.35,406.23 65.69,405.63 66.05,405.04 66.41,404.45 66.78,403.86 67.15,403.28 67.53,402.7 67.92,402.12 68.31,401.55 68.71,400.98 69.11,400.41 69.52,399.85 69.94,399.29 70.36,398.73 70.79,398.18 71.22,397.63 71.66,397.08 72.1,396.54 72.55,396 73.01,395.46 73.46,394.93 73.93,394.39 74.4,393.86 74.87,393.34 75.35,392.82 75.83,392.3 76.32,391.79 76.81,391.28 77.31,390.78 77.81,390.28 78.32,389.79 78.83,389.3 79.34,388.82 79.86,388.34 80.39,387.87 80.92,387.41 81.46,386.95 82,386.5 82.54,386.06 83.09,385.62 83.65,385.19 84.21,384.77 84.77,384.36 85.34,383.95 85.91,383.55 86.49,383.16 87.08,382.78 87.66,382.41 88.26,382.05 88.86,381.7 89.46,381.36 90.07,381.02 90.68,380.7 91.29,380.39 91.92,380.09 92.54,379.79 93.17,379.51 93.81,379.24 94.45,378.98 95.1,378.74 95.75,378.5 96.4,378.27 97.06,378.05 97.72,377.84 98.38,377.63 99.05,377.44 99.72,377.25 100.4,377.08 101.07,376.9 101.75,376.74 102.44,376.58 103.12,376.43 103.81,376.29 104.5,376.15 105.19,376.01 105.88,375.89 106.58,375.76 107.28,375.64 107.97,375.53 108.67,375.41 109.37,375.31 110.07,375.2 110.77,375.1 111.47,375 112.18,374.9 112.88,374.8 113.58,374.71 114.28,374.62 114.98,374.52 115.68,374.43 116.38,374.34 117.08,374.25 117.78,374.16 118.48,374.06 119.18,373.97 119.87,373.87 120.56,373.78 121.26,373.68 121.95,373.59 122.64,373.49 123.33,373.4 124.02,373.31 124.71,373.21 125.4,373.12 126.09,373.03 126.78,372.94 127.47,372.85 128.16,372.76 128.85,372.68 129.54,372.59 130.23,372.51 130.92,372.43 131.61,372.35 132.31,372.28 133,372.21 133.69,372.14 134.38,372.07 135.08,372 135.77,371.93 136.46,371.87 137.16,371.81 137.85,371.75 138.55,371.69 139.24,371.64 139.94,371.58 140.63,371.53 141.33,371.48 142.03,371.43 142.72,371.38 143.42,371.34 144.12,371.29 144.82,371.25 145.51,371.21 146.21,371.17 146.91,371.13 147.61,371.09 148.31,371.05 149.01,371.02 149.7,370.98 150.4,370.95 151.1,370.92 151.8,370.89 152.5,370.86 153.2,370.83 153.9,370.81 154.6,370.78 155.3,370.75 156.01,370.73 156.71,370.71 157.41,370.68 158.11,370.66 158.81,370.64 159.51,370.62 160.21,370.6 160.91,370.58 161.61,370.57 162.32,370.55 163.02,370.53 163.72,370.51 164.42,370.5 165.12,370.48 165.82,370.47 166.53,370.45 167.23,370.44 167.93,370.42 168.63,370.41 169.33,370.4 170.04,370.38 170.74,370.37 171.44,370.36 172.14,370.34 172.84,370.33 173.54,370.32 174.25,370.31 174.95,370.29 175.65,370.28 176.35,370.27 177.05,370.25 177.75,370.24 178.45,370.23 179.15,370.21 179.85,370.2 180.55,370.18 181.25,370.17 181.95,370.15 182.66,370.14 183.35,370.12 184.05,370.11 184.75,370.09 185.45,370.07 186.15,370.05 186.85,370.03 187.55,370.01 188.25,369.99 188.95,369.97 189.65,369.95 190.34,369.93 191.04,369.9 191.74,369.88 192.43,369.85 193.13,369.83 193.83,369.8 194.52,369.77 195.22,369.74 195.92,369.71 196.61,369.68 197.31,369.65 198,369.62 198.69,369.58" fill="none" stroke="#000" stroke-width="2" stroke-linejoin="round"/>
<polyline points="33.6,362 33.59,362.74 33.59,363.48 33.59,364.22 33.59,364.95 33.59,365.68 33.59,366.41 33.6,367.13 33.6,367.86 33.61,368.58 33.61,369.3 33.62,370.02 33.63,370.73 33.64,371.45 33.65,372.16 33.66,372.87 33.68,373.58 33.69,374.29 33.7,374.99 33.72,375.7 33.74,376.4 33.75,377.1 33.77,377.8 33.79,378.5 33.81,379.19 33.83,379.89 33.85,380.58 33.87,381.28 33.9,381.97 33.92,382.66 33.95,383.35 33.97,384.04 34,384.73 34.02,385.42 34.05,386.1 34.08,386.79 34.11,387.47 34.13,388.16 34.16,388.84 34.19,389.53 34.22,390.21 34.26,390.89 34.29,391.58 34.32,392.26 34.35,392.94 34.39,393.63 34.42,394.31 34.45,394.99 34.49,395.67 34.52,396.36 34.56,397.04 34.59,397.72 34.63,398.41 34.66,399.09 34.7,399.77 34.74,400.46 34.78,401.14 34.81,401.83 34.85,402.52 34.89,403.2 34.93,403.89 34.96,404.58 35,405.27 35.04,405.96 35.08,406.65 35.12,407.35 35.16,408.04 35.2,408.73 35.24,409.43 35.28,410.13 35.31,410.83 35.35,411.53 35.39,412.23 35.43,412.93 35.47,413.64 35.51,414.34 35.55,415.05 35.59,415.76 35.63,416.47 35.67,417.18 35.7,417.9 35.74,418.61 35.78,419.33 35.82,420.05 35.86,420.78 35.9,421.5 35.93,422.23 35.97,422.95 36.01,423.68 36.04,424.4 36.08,425.13 36.12,425.85 36.15,426.58 36.19,427.3 36.22,428.02 36.26,428.74 36.29,429.45 36.32,430.17 36.36,430.87 36.39,431.58 36.42,432.28 36.45,432.98 36.49,433.67 36.52,434.36 36.55,435.04 36.58,435.71 36.61,436.38 36.63,437.05 36.66,437.7 36.69,438.35 36.72,438.99 36.74,439.63 36.77,440.25 36.79,440.87 36.82,441.48 36.84,442.09 36.87,442.7 36.89,443.31 36.92,443.93 36.95,444.55 36.98,445.19 37.02,445.83 37.06,446.49 37.1,447.17 37.14,447.87 37.19,448.59 37.24,449.33 37.3,450.11 37.37,450.91 37.44,451.74 37.51,452.61 37.59,453.52 37.68,454.46 37.78,455.44 37.88,456.43 37.99,457.4 38.11,458.35 38.24,459.24 38.38,460.05 38.53,460.76 38.69,461.36 38.85,461.81 39.03,462.1 39.22,462.2 39.42,462.09 39.64,461.78 39.85,461.3 40.07,460.69 40.29,460.02 40.5,459.33 40.7,458.63 40.88,457.93 41.06,457.23 41.23,456.54 41.4,455.84 41.55,455.14 41.7,454.44 41.84,453.74 41.97,453.05 42.1,452.35 42.23,451.65 42.34,450.95 42.46,450.25 42.57,449.56 42.68,448.86 42.78,448.16 42.88,447.46 42.98,446.77 43.08,446.07 43.18,445.38 43.27,444.68 43.37,443.98 43.47,443.29 43.56,442.59 43.66,441.9 43.76,441.21 43.87,440.51 43.97,439.82 44.08,439.13 44.19,438.43 44.31,437.74 44.43,437.05 44.55,436.36 44.67,435.67 44.79,434.98 44.92,434.29 45.05,433.61 45.18,432.92 45.31,432.23 45.45,431.55 45.58,430.86 45.72,430.18 45.85,429.49 45.99,428.81 46.13,428.13 46.27,427.45 46.41,426.77 46.56,426.09 46.7,425.41 46.84,424.73 46.99,424.05 47.14,423.37 47.28,422.69 47.43,422.01 47.58,421.34 47.73,420.66 47.88,419.98 48.04,419.3 48.19,418.63 48.34,417.95 48.5,417.27 48.65,416.59 48.81,415.91 48.96,415.24 49.12,414.56 49.28,413.88 49.44,413.2 49.6,412.52 49.76,411.84 49.92,411.16 50.08,410.48 50.24,409.79 50.4,409.11 50.57,408.43 50.73,407.74 50.89,407.06 51.06,406.37 51.22,405.69 51.39,405 51.57,404.32 51.74,403.63 51.92,402.95 52.1,402.27 52.29,401.59 52.48,400.91 52.68,400.23 52.89,399.56 53.1,398.88 53.32,398.21 53.54,397.54 53.78,396.88 54.02,396.22 54.28,395.56 54.54,394.91 54.81,394.26 55.1,393.62 55.4,392.98 55.7,392.35 56.02,391.72 56.36,391.09 56.7,390.48 57.05,389.87 57.41,389.26 57.79,388.66 58.17,388.07 58.56,387.49 58.97,386.91 59.38,386.34 59.8,385.78 60.23,385.23 60.67,384.68 61.12,384.15 61.58,383.62 62.04,383.1 62.52,382.6 63,382.1 63.49,381.6 63.98,381.12 64.49,380.65 65,380.18 65.52,379.72 66.04,379.27 66.58,378.83 67.11,378.4 67.66,377.98 68.21,377.56 68.77,377.15 69.34,376.75 69.91,376.36 70.48,375.97 71.07,375.6 71.65,375.23 72.25,374.87 72.85,374.51 73.45,374.16 74.06,373.83 74.67,373.49 75.29,373.17 75.92,372.85 76.54,372.54 77.17,372.24 77.81,371.94 78.45,371.66 79.09,371.37 79.74,371.1 80.39,370.83 81.05,370.57 81.7,370.32 82.37,370.07 83.03,369.83 83.7,369.59 84.36,369.37 85.04,369.14 85.71,368.93 86.39,368.72 87.07,368.52 87.75,368.32 88.43,368.13 89.11,367.95 89.8,367.77 90.48,367.59 91.17,367.43 91.86,367.27 92.55,367.11 93.24,366.96 93.93,366.82 94.62,366.68 95.32,366.55 96.01,366.42 96.7,366.3 97.39,366.18 98.09,366.07 98.78,365.96 99.47,365.86 100.16,365.76 100.86,365.67 101.55,365.58 102.25,365.5 102.94,365.42 103.63,365.34 104.33,365.27 105.02,365.2 105.72,365.13 106.41,365.07 107.11,365.01 107.8,364.96 108.5,364.91 109.19,364.86 109.89,364.81 110.58,364.77 111.28,364.73 111.97,364.69 112.67,364.65 113.37,364.62 114.06,364.59 114.76,364.56 115.46,364.53 116.15,364.51 116.85,364.48 117.55,364.46 118.24,364.44 118.94,364.42 119.64,364.4 120.34,364.38 121.03,364.36 121.73,364.34 122.43,364.33 123.13,364.31 123.83,364.29 124.52,364.28 125.22,364.26 125.92,364.25 126.62,364.23 127.32,364.22 128.02,364.2 128.71,364.18 129.41,364.16 130.11,364.14 130.81,364.12 131.51,364.1 132.21,364.08 132.91,364.06 133.61,364.04 134.31,364.01 135.01,363.99 135.71,363.96 136.41,363.94 137.11,363.91 137.81,363.89 138.51,363.86 139.2,363.83 139.9,363.81 140.6,363.78 141.3,363.75 142,363.73 142.7,363.7 143.41,363.67 144.11,363.65 144.81,363.62 145.51,363.59 146.21,363.57 146.91,363.54 147.61,363.52 148.31,363.49 149.01,363.47 149.71,363.45 150.41,363.43 151.11,363.4 151.81,363.38 152.51,363.36 153.21,363.35 153.91,363.33 154.61,363.31 155.31,363.3 156.01,363.28 156.71,363.27 157.42,363.26 158.12,363.24 158.82,363.23 159.52,363.22 160.22,363.21 160.92,363.2 161.62,363.19 162.32,363.19 163.02,363.18 163.72,363.17 164.42,363.17 165.12,363.16 165.82,363.15 166.52,363.15 167.22,363.15 167.93,363.14 168.63,363.14 169.33,363.13 170.03,363.13 170.73,363.13 171.43,363.12 172.13,363.12 172.83,363.12 173.53,363.12 174.23,363.11 174.93,363.11 175.63,363.11 176.33,363.11 177.03,363.1 177.73,363.1 178.43,363.1 179.13,363.09 179.83,363.09 180.53,363.09 181.23,363.08 181.93,363.08 182.63,363.07 183.33,363.07 184.03,363.06 184.73,363.06 185.42,363.05 186.12,363.05 186.82,363.04 187.52,363.03 188.22,363.02 188.92,363.01 189.62,363 190.32,362.99 191.02,362.98 191.71,362.97 192.41,362.96 193.11,362.94 193.81,362.93 194.51,362.91 195.21,362.9 195.9,362.88 196.6,362.86 197.3,362.84 198,362.82 198.69,362.8" fill="none" stroke="#ff0000" stroke-width="2" stroke-linejoin="round"/>
<path d="M31.6,359.5 C30.6,368 30.2,378 30.4,384.6 L31.6,384.8 C32.4,377 33.6,368 34.4,360 L33.2,357.8 Z" fill="#ff0000"/>
<line x1="20.2" y1="364.5" x2="30.5" y2="364.5" stroke="#000" stroke-width="0.9"/>
<polyline points="139.5,385.3 139.5,428.7 67.2,428.7" fill="none" stroke="#000" stroke-width="2" stroke-linejoin="round"/>
<text transform="matrix(1.04,0,0,1,151.47,415)" font-size="14.24">1000 pA</text>
<text transform="matrix(1.15,0,0,1,108.2,448.47)" font-size="12.99">50 ms</text>
<line x1="114" y1="466" x2="152.4" y2="466" stroke="#000" stroke-width="2"/>
<line x1="114" y1="486.3" x2="152.4" y2="486.3" stroke="#ff0000" stroke-width="2"/>
<text transform="matrix(1.17,0,0,1,156.14,470.36)" font-size="14.43">Control</text>
<text transform="matrix(0.92,0,0,1,157.19,491.43)" font-size="17.37">10</text>
<text transform="matrix(1.23,0,0,1,179.19,491.52)" font-size="13.47">μ</text>
<text transform="matrix(1.13,0,0,1,186.29,491.4)" font-size="17.3">M</text>
<text transform="matrix(0.95,0,0,1,206.56,491.4)" font-size="17.3">CBD</text>
<polyline points="254.9,331.3 265.8,331.3 265.8,309.3 390.5,309.3" fill="none" stroke="#000" stroke-width="1.8" stroke-linejoin="round"/>
<text transform="matrix(1.06,0,0,1,397.7,311.68)" font-size="12.71">-20 mV</text>
<text transform="matrix(1.06,0,0,1,272.01,333.38)" font-size="12.57">-40 mV</text>
<text transform="matrix(1.08,0,0,1,343.96,354.33)" font-size="17.09">500 ms CL</text>
<line x1="228.2" y1="369" x2="290" y2="369" stroke="#000" stroke-width="2" stroke-dasharray="8.5 8.5"/>
<line x1="254.8" y1="368.6" x2="262.8" y2="368.6" stroke="#ff0000" stroke-width="1.8"/>
<line x1="262.3" y1="360.2" x2="262.3" y2="369" stroke="#000" stroke-width="1.8"/>
<polyline points="263,369 263.05,369.72 263.1,370.43 263.14,371.15 263.19,371.86 263.24,372.57 263.28,373.28 263.33,373.99 263.37,374.7 263.41,375.41 263.46,376.11 263.5,376.82 263.54,377.52 263.58,378.22 263.63,378.92 263.67,379.62 263.71,380.32 263.75,381.01 263.79,381.71 263.83,382.41 263.87,383.1 263.91,383.79 263.94,384.49 263.98,385.18 264.02,385.87 264.06,386.56 264.09,387.25 264.13,387.94 264.17,388.63 264.2,389.32 264.24,390.01 264.27,390.7 264.31,391.39 264.34,392.08 264.38,392.77 264.41,393.46 264.45,394.14 264.48,394.83 264.51,395.52 264.54,396.21 264.58,396.9 264.61,397.58 264.64,398.27 264.67,398.96 264.7,399.65 264.74,400.34 264.77,401.03 264.8,401.72 264.83,402.41 264.86,403.1 264.89,403.8 264.92,404.49 264.95,405.18 264.98,405.88 265,406.57 265.03,407.27 265.06,407.96 265.09,408.66 265.12,409.36 265.15,410.06 265.17,410.76 265.2,411.46 265.23,412.16 265.26,412.87 265.28,413.57 265.31,414.28 265.34,414.99 265.36,415.7 265.39,416.41 265.42,417.12 265.44,417.83 265.47,418.55 265.5,419.27 265.52,419.98 265.55,420.7 265.57,421.43 265.6,422.15 265.63,422.87 265.65,423.6 265.68,424.33 265.7,425.05 265.73,425.78 265.75,426.51 265.78,427.24 265.8,427.97 265.83,428.7 265.85,429.43 265.88,430.16 265.9,430.89 265.93,431.62 265.95,432.35 265.98,433.08 266,433.81 266.03,434.54 266.05,435.26 266.08,435.99 266.1,436.71 266.13,437.44 266.15,438.16 266.18,438.88 266.2,439.6 266.23,440.31 266.25,441.03 266.28,441.74 266.3,442.45 266.33,443.16 266.35,443.86 266.38,444.56 266.4,445.26 266.43,445.96 266.45,446.65 266.48,447.34 266.5,448.03 266.53,448.71 266.56,449.39 266.58,450.07 266.61,450.74 266.63,451.41 266.66,452.07 266.69,452.73 266.71,453.39 266.74,454.04 266.77,454.68 266.79,455.32 266.82,455.96 266.85,456.59 266.88,457.22 266.9,457.84 266.93,458.45 266.96,459.06 266.99,459.67 267.02,460.27 267.05,460.86 267.08,461.46 267.11,462.05 267.14,462.64 267.17,463.24 267.2,463.83 267.23,464.43 267.26,465.03 267.3,465.64 267.33,466.26 267.37,466.88 267.41,467.5 267.44,468.14 267.48,468.79 267.52,469.45 267.56,470.12 267.61,470.8 267.65,471.5 267.7,472.21 267.74,472.94 267.79,473.68 267.84,474.45 267.9,475.23 267.95,476.03 268.01,476.85 268.06,477.7 268.12,478.57 268.19,479.46 268.25,480.38 268.32,481.32 268.38,482.29 268.45,483.29 268.53,484.29 268.6,485.29 268.68,486.26 268.76,487.19 268.84,488.08 268.93,488.89 269.02,489.61 269.11,490.24 269.2,490.75 269.3,491.12 269.4,491.35 269.5,491.41 269.61,491.3 269.72,491 269.83,490.56 269.95,489.98 270.06,489.31 270.18,488.55 270.3,487.75 270.43,486.92 270.55,486.09 270.67,485.28 270.8,484.49 270.92,483.72 271.05,482.97 271.18,482.23 271.3,481.51 271.43,480.8 271.55,480.1 271.67,479.41 271.8,478.73 271.92,478.06 272.04,477.39 272.15,476.73 272.27,476.07 272.38,475.41 272.49,474.75 272.59,474.09 272.7,473.42 272.8,472.76 272.89,472.09 272.99,471.41 273.08,470.74 273.17,470.06 273.26,469.38 273.34,468.7 273.43,468.01 273.51,467.32 273.59,466.64 273.68,465.95 273.76,465.25 273.84,464.56 273.92,463.87 274,463.17 274.08,462.47 274.16,461.78 274.24,461.08 274.32,460.38 274.4,459.68 274.48,458.98 274.57,458.28 274.65,457.58 274.74,456.88 274.83,456.18 274.92,455.47 275.02,454.77 275.11,454.07 275.21,453.38 275.32,452.68 275.42,451.98 275.53,451.28 275.64,450.59 275.76,449.89 275.88,449.2 276.01,448.51 276.13,447.82 276.26,447.13 276.4,446.44 276.54,445.75 276.68,445.06 276.82,444.38 276.97,443.69 277.12,443.01 277.27,442.32 277.43,441.64 277.59,440.96 277.75,440.28 277.92,439.6 278.09,438.92 278.26,438.24 278.43,437.56 278.61,436.89 278.79,436.21 278.97,435.53 279.16,434.86 279.34,434.18 279.53,433.51 279.73,432.84 279.92,432.16 280.12,431.49 280.32,430.82 280.52,430.15 280.72,429.48 280.93,428.81 281.13,428.14 281.34,427.47 281.55,426.8 281.76,426.13 281.97,425.46 282.17,424.79 282.38,424.13 282.6,423.46 282.8,422.79 283.01,422.13 283.22,421.46 283.43,420.79 283.64,420.13 283.84,419.46 284.05,418.79 284.25,418.13 284.46,417.46 284.66,416.8 284.87,416.13 285.08,415.47 285.29,414.81 285.5,414.15 285.72,413.49 285.94,412.84 286.16,412.18 286.39,411.53 286.63,410.88 286.87,410.24 287.12,409.59 287.38,408.95 287.64,408.31 287.91,407.68 288.2,407.04 288.49,406.42 288.79,405.79 289.1,405.17 289.42,404.55 289.75,403.94 290.09,403.33 290.44,402.73 290.81,402.13 291.18,401.54 291.56,400.95 291.95,400.37 292.35,399.79 292.76,399.22 293.18,398.65 293.61,398.09 294.05,397.54 294.49,396.99 294.95,396.45 295.41,395.92 295.89,395.39 296.37,394.87 296.87,394.36 297.37,393.85 297.88,393.36 298.39,392.87 298.92,392.38 299.45,391.91 299.99,391.44 300.54,390.99 301.09,390.54 301.65,390.1 302.22,389.67 302.79,389.25 303.37,388.84 303.95,388.43 304.54,388.04 305.13,387.66 305.73,387.28 306.33,386.92 306.94,386.57 307.55,386.23 308.16,385.89 308.78,385.57 309.4,385.25 310.03,384.95 310.66,384.65 311.29,384.37 311.93,384.09 312.57,383.82 313.21,383.55 313.86,383.3 314.51,383.05 315.16,382.81 315.82,382.58 316.47,382.35 317.13,382.13 317.8,381.92 318.46,381.71 319.13,381.51 319.8,381.32 320.47,381.13 321.14,380.94 321.82,380.77 322.49,380.59 323.17,380.43 323.85,380.26 324.53,380.1 325.22,379.95 325.9,379.8 326.58,379.65 327.27,379.51 327.96,379.37 328.64,379.23 329.33,379.1 330.02,378.97 330.71,378.84 331.4,378.71 332.09,378.59 332.78,378.47 333.47,378.35 334.16,378.23 334.85,378.11 335.54,378 336.23,377.89 336.92,377.78 337.61,377.67 338.31,377.57 339,377.46 339.69,377.36 340.38,377.26 341.07,377.16 341.77,377.07 342.46,376.97 343.15,376.88 343.84,376.79 344.54,376.7 345.23,376.61 345.92,376.52 346.62,376.44 347.31,376.36 348.01,376.28 348.7,376.2 349.4,376.12 350.09,376.04 350.79,375.97 351.48,375.9 352.18,375.82 352.87,375.75 353.57,375.69 354.26,375.62 354.96,375.55 355.65,375.49 356.35,375.43 357.05,375.36 357.74,375.3 358.44,375.25 359.13,375.19 359.83,375.13 360.53,375.08 361.22,375.02 361.92,374.97 362.62,374.92 363.32,374.87 364.01,374.82 364.71,374.77 365.41,374.72 366.11,374.68 366.8,374.63 367.5,374.59 368.2,374.55 368.9,374.51 369.6,374.46 370.29,374.43 370.99,374.39 371.69,374.35 372.39,374.31 373.09,374.28 373.79,374.24 374.49,374.21 375.18,374.17 375.88,374.14 376.58,374.11 377.28,374.08 377.98,374.04 378.68,374.01 379.38,373.99 380.08,373.96 380.78,373.93 381.48,373.9 382.18,373.87 382.88,373.85 383.58,373.82 384.28,373.8 384.97,373.77 385.67,373.75 386.37,373.72 387.07,373.7 387.77,373.68 388.47,373.66 389.17,373.63 389.87,373.61 390.57,373.59 391.27,373.57 391.97,373.55 392.67,373.53 393.37,373.51 394.07,373.49 394.77,373.47 395.47,373.45 396.17,373.43 396.87,373.41 397.57,373.39 398.27,373.37 398.97,373.35 399.67,373.33 400.37,373.31 401.07,373.3 401.77,373.28 402.47,373.26 403.17,373.24 403.87,373.22 404.57,373.2 405.27,373.18 405.97,373.16 406.67,373.14 407.37,373.12 408.07,373.1 408.77,373.08 409.47,373.06 410.16,373.04 410.86,373.02 411.56,373 412.26,372.98 412.96,372.95 413.66,372.93 414.36,372.91 415.06,372.89 415.76,372.86 416.46,372.84 417.15,372.81 417.85,372.79 418.55,372.76 419.25,372.74 419.95,372.71 420.65,372.68 421.34,372.66 422.04,372.63 422.74,372.6 423.44,372.57 424.14,372.54 424.83,372.51 425.53,372.48 426.23,372.44 426.93,372.41 427.62,372.38 428.32,372.34 429.02,372.3 429.71,372.27 430.41,372.23 431.11,372.19 431.8,372.15 432.5,372.11 433.2,372.07" fill="none" stroke="#000" stroke-width="2" stroke-linejoin="round"/>
<line x1="264.2" y1="345.3" x2="264.2" y2="370" stroke="#ff0000" stroke-width="1.8"/>
<polyline points="266.8,345.3 266.83,346 266.86,346.7 266.88,347.4 266.91,348.1 266.93,348.8 266.95,349.5 266.97,350.2 266.99,350.89 267.01,351.59 267.03,352.29 267.05,352.99 267.06,353.69 267.08,354.39 267.09,355.09 267.11,355.79 267.12,356.49 267.13,357.19 267.14,357.89 267.16,358.59 267.17,359.28 267.18,359.98 267.19,360.68 267.2,361.38 267.2,362.08 267.21,362.78 267.22,363.48 267.23,364.18 267.24,364.87 267.24,365.57 267.25,366.27 267.26,366.97 267.26,367.67 267.27,368.37 267.28,369.07 267.29,369.76 267.29,370.46 267.3,371.16 267.31,371.86 267.31,372.56 267.32,373.26 267.33,373.95 267.34,374.65 267.34,375.35 267.35,376.05 267.36,376.75 267.37,377.45 267.38,378.14 267.39,378.84 267.4,379.54 267.41,380.24 267.42,380.94 267.44,381.63 267.45,382.33 267.46,383.03 267.48,383.73 267.49,384.43 267.51,385.12 267.52,385.82 267.54,386.52 267.56,387.22 267.58,387.92 267.6,388.61 267.62,389.31 267.64,390.01 267.67,390.71 267.69,391.41 267.72,392.1 267.75,392.8 267.77,393.5 267.8,394.2 267.83,394.9 267.87,395.6 267.9,396.29 267.94,396.99 267.97,397.69 268.01,398.39 268.05,399.09 268.09,399.78 268.13,400.48 268.17,401.18 268.21,401.88 268.25,402.58 268.29,403.27 268.34,403.97 268.38,404.67 268.42,405.37 268.47,406.07 268.51,406.76 268.56,407.46 268.6,408.16 268.65,408.86 268.7,409.56 268.74,410.26 268.79,410.95 268.83,411.65 268.88,412.35 268.92,413.05 268.96,413.75 269.01,414.45 269.05,415.14 269.09,415.84 269.13,416.54 269.17,417.24 269.22,417.94 269.25,418.64 269.29,419.34 269.33,420.03 269.37,420.73 269.4,421.43 269.44,422.13 269.47,422.83 269.5,423.53 269.54,424.23 269.57,424.92 269.61,425.62 269.64,426.32 269.68,427.02 269.71,427.72 269.75,428.41 269.79,429.11 269.83,429.81 269.87,430.5 269.92,431.2 269.96,431.9 270.01,432.59 270.07,433.29 270.12,433.98 270.18,434.67 270.24,435.37 270.3,436.06 270.37,436.75 270.44,437.45 270.52,438.14 270.6,438.83 270.68,439.52 270.77,440.21 270.86,440.9 270.96,441.59 271.07,442.28 271.18,442.97 271.29,443.66 271.41,444.36 271.54,445.06 271.67,445.76 271.81,446.47 271.96,447.18 272.11,447.9 272.28,448.63 272.44,449.36 272.62,450.1 272.8,450.84 272.99,451.51 273.19,452.01 273.39,452.26 273.6,452.18 273.82,451.81 274.04,451.23 274.26,450.51 274.49,449.73 274.71,448.96 274.95,448.21 275.18,447.48 275.42,446.76 275.65,446.06 275.89,445.37 276.12,444.7 276.36,444.03 276.59,443.37 276.82,442.72 277.05,442.07 277.28,441.43 277.5,440.78 277.71,440.14 277.93,439.49 278.13,438.85 278.34,438.2 278.53,437.54 278.73,436.89 278.92,436.23 279.1,435.57 279.28,434.91 279.46,434.24 279.63,433.58 279.8,432.91 279.97,432.24 280.14,431.57 280.3,430.89 280.46,430.22 280.62,429.54 280.78,428.86 280.93,428.18 281.08,427.5 281.24,426.82 281.39,426.13 281.54,425.45 281.69,424.76 281.83,424.08 281.98,423.39 282.13,422.7 282.28,422.01 282.43,421.32 282.58,420.63 282.73,419.94 282.88,419.25 283.03,418.56 283.19,417.86 283.34,417.17 283.5,416.48 283.66,415.79 283.82,415.09 283.98,414.4 284.15,413.71 284.31,413.02 284.48,412.33 284.66,411.64 284.83,410.95 285.01,410.27 285.2,409.58 285.38,408.9 285.57,408.22 285.76,407.54 285.96,406.86 286.16,406.18 286.37,405.51 286.58,404.83 286.8,404.16 287.02,403.5 287.24,402.83 287.47,402.17 287.71,401.51 287.95,400.85 288.19,400.2 288.45,399.55 288.7,398.9 288.97,398.26 289.24,397.62 289.52,396.98 289.8,396.35 290.09,395.72 290.39,395.1 290.7,394.48 291.01,393.86 291.33,393.25 291.66,392.64 291.99,392.04 292.33,391.44 292.69,390.85 293.05,390.27 293.41,389.69 293.79,389.11 294.18,388.54 294.57,387.97 294.98,387.41 295.39,386.86 295.81,386.31 296.24,385.77 296.69,385.24 297.14,384.71 297.6,384.19 298.07,383.67 298.56,383.17 299.05,382.66 299.56,382.17 300.07,381.68 300.6,381.2 301.13,380.74 301.68,380.27 302.23,379.82 302.79,379.38 303.37,378.96 303.95,378.54 304.53,378.13 305.13,377.74 305.73,377.36 306.34,377 306.96,376.65 307.58,376.31 308.21,375.99 308.85,375.69 309.49,375.4 310.14,375.13 310.79,374.87 311.44,374.63 312.1,374.4 312.77,374.19 313.43,373.98 314.1,373.79 314.78,373.6 315.45,373.43 316.13,373.26 316.81,373.1 317.5,372.95 318.18,372.8 318.87,372.66 319.55,372.53 320.24,372.39 320.93,372.26 321.61,372.13 322.3,372 322.99,371.88 323.68,371.76 324.37,371.64 325.06,371.52 325.74,371.41 326.43,371.3 327.12,371.19 327.81,371.08 328.5,370.98 329.19,370.87 329.89,370.78 330.58,370.68 331.27,370.58 331.96,370.49 332.65,370.4 333.34,370.31 334.04,370.23 334.73,370.14 335.42,370.06 336.11,369.98 336.81,369.9 337.5,369.83 338.19,369.75 338.89,369.68 339.58,369.61 340.28,369.54 340.97,369.48 341.67,369.41 342.36,369.35 343.06,369.29 343.75,369.23 344.45,369.17 345.14,369.12 345.84,369.07 346.54,369.01 347.23,368.96 347.93,368.92 348.63,368.87 349.32,368.82 350.02,368.78 350.72,368.74 351.41,368.7 352.11,368.66 352.81,368.62 353.51,368.59 354.2,368.55 354.9,368.52 355.6,368.49 356.3,368.46 357,368.43 357.7,368.4 358.4,368.37 359.09,368.35 359.79,368.32 360.49,368.3 361.19,368.28 361.89,368.26 362.59,368.24 363.29,368.22 363.99,368.2 364.69,368.19 365.39,368.17 366.09,368.16 366.79,368.14 367.49,368.13 368.19,368.12 368.89,368.11 369.59,368.1 370.29,368.09 370.99,368.08 371.69,368.07 372.39,368.07 373.09,368.06 373.79,368.06 374.5,368.05 375.2,368.05 375.9,368.04 376.6,368.04 377.3,368.04 378,368.04 378.7,368.04 379.4,368.03 380.1,368.03 380.8,368.03 381.51,368.04 382.21,368.04 382.91,368.04 383.61,368.04 384.31,368.04 385.01,368.04 385.71,368.05 386.41,368.05 387.12,368.05 387.82,368.05 388.52,368.06 389.22,368.06 389.92,368.06 390.62,368.07 391.32,368.07 392.02,368.08 392.72,368.08 393.42,368.08 394.13,368.09 394.83,368.09 395.53,368.09 396.23,368.1 396.93,368.1 397.63,368.1 398.33,368.1 399.03,368.11 399.73,368.11 400.43,368.11 401.13,368.11 401.83,368.11 402.53,368.12 403.23,368.12 403.93,368.12 404.63,368.12 405.33,368.11 406.03,368.11 406.73,368.11 407.43,368.11 408.13,368.11 408.83,368.1 409.53,368.1 410.22,368.09 410.92,368.09 411.62,368.08 412.32,368.07 413.02,368.07 413.72,368.06 414.42,368.05 415.11,368.04 415.81,368.03 416.51,368.02 417.21,368 417.9,367.99 418.6,367.97 419.3,367.96 419.99,367.94 420.69,367.92 421.39,367.9 422.08,367.88 422.78,367.86 423.48,367.84 424.17,367.82 424.87,367.79 425.56,367.77 426.26,367.74 426.95,367.71 427.65,367.68 428.34,367.65 429.04,367.62 429.73,367.59 430.42,367.55 431.12,367.51 431.81,367.48 432.51,367.44 433.2,367.4" fill="none" stroke="#ff0000" stroke-width="2" stroke-linejoin="round"/>
<polyline points="374.2,382.6 374.2,432.6 302.1,432.6" fill="none" stroke="#000" stroke-width="2" stroke-linejoin="round"/>
<text transform="matrix(1.09,0,0,1,386.08,416.3)" font-size="13.52">1000 pA</text>
<text transform="matrix(1.08,0,0,1,343.41,452.67)" font-size="13.7">50 ms</text>
<text transform="matrix(1.1,0,0,1,491.24,23)" font-size="19.33">I</text>
<text transform="matrix(1.2,0,0,1,496.53,29.61)" font-size="8.89">NaL</text>
<text transform="matrix(0.97,0,0,1,521.79,22.8)" font-size="19.04">TTX sensitive current</text>
<polyline points="480.3,70.1 488,70.1 488,47.8 648.4,47.8" fill="none" stroke="#000" stroke-width="1.8" stroke-linejoin="round"/>
<text transform="matrix(0.97,0,0,1,656.31,50.46)" font-size="13.84">-20 mV</text>
<text transform="matrix(1.03,0,0,1,492.61,71.87)" font-size="12.85">-120 mV</text>
<line x1="480.3" y1="116" x2="625" y2="116" stroke="#000" stroke-width="2" stroke-dasharray="8.5 8.5"/>
<line x1="487.8" y1="78.2" x2="488.3" y2="268" stroke="#ff0000" stroke-width="2.8"/>
<polyline points="480.6,121 480.8,118.7 487,118.7" fill="none" stroke="#ff0000" stroke-width="2" stroke-linejoin="round"/>
<polyline points="490.8,97.6 490.7,150 491,200 492.2,214 495,221.4" fill="none" stroke="#000" stroke-width="2.5" stroke-linejoin="round"/>
<polyline points="495.34,221.06 495.56,221.35 495.79,218.66 496.04,218.99 496.3,216.09 496.57,216.21 496.85,213.75 497.14,213.88 497.45,210.9 497.77,210.84 498.11,207.81 498.45,208.22 498.81,205.22 499.19,205.63 499.57,202.8 499.97,203.06 500.38,200.45 500.8,201.08 501.24,198.21 501.69,198.74 502.16,195.83 502.63,196.06 503.12,193.36 503.63,193.8 504.14,191 504.67,190.95 505.22,188.14 505.77,188.56 506.34,185.66 506.93,186.27 507.53,183.28 508.14,184 508.76,181.24 509.4,181.85 510.06,179.18 510.72,179.9 511.4,176.98 512.1,177.5 512.81,175.25 513.53,175.43 514.26,172.7 515.01,173.3 515.77,170.59 516.55,170.98 517.33,168.41 518.14,168.84 518.95,166.38 519.78,166.92 520.61,164.36 521.47,165.25 522.33,162.6 523.21,163.61 524.1,160.9 525,162.02 525.91,159.35 526.84,159.98 527.77,157.54 528.72,158.56 529.68,155.7 530.66,156.53 531.64,153.93 532.64,154.54 533.64,152.11 534.66,153.02 535.69,150.77 536.73,151.32 537.79,149.15 538.85,150.45 539.92,148.28 541,149.2 542.09,146.97 543.2,147.73 544.31,145.81 545.43,146.74 546.55,144.23 547.69,145.05 548.83,142.96 549.99,143.67 551.15,141.56 552.32,142.5 553.49,140.28 554.67,141.68 555.86,139.44 557.06,140.79 558.26,138.71 559.46,139.63 560.68,137.87 561.89,138.91 563.12,137.34 564.35,138.32 565.58,136.34 566.81,137.34 568.06,135.69 569.3,136.72 570.55,134.62 571.8,135.85 573.05,133.5 574.31,134.8 575.57,133 576.83,134.27 578.1,132.42 579.36,133.89 580.63,132.1 581.9,133.56 583.17,131.59 584.44,133.15 585.72,131.4 586.99,132.76 588.27,130.94 589.55,131.97 590.82,129.97 592.1,131.42 593.38,129.52 594.67,130.59 595.95,129.05 597.24,130.4 598.52,128.87 599.81,130.14 601.09,128.39 602.38,129.73 603.67,128.25 604.96,129.77 606.25,128.05 607.55,129.47 608.84,127.72 610.13,129.26 611.43,127.58 612.72,128.46 614.02,126.78 615.31,128.37 616.61,126.51 617.91,127.76 619.21,126.05 620.5,127.48 621.8,126.02 623.1,127.41 624.4,126 625.7,127.53 627,126.02 628.3,127.39 629.6,125.7 630.91,127.06 632.21,125.55 633.51,127.07 634.81,125.32 636.11,126.48 637.41,124.76 638.72,126.19 640.02,124.79 641.32,126.11 642.62,124.49 643.92,125.97 645.22,124.73 646.52,126.2 647.83,124.64 649.13,126.36 650.43,124.7 651.73,126.25 653.03,124.88 654.33,126.33 655.62,124.42 656.92,125.99 658.22,124.44 659.52,125.56 660.82,124.06 662.11,125.41 663.41,123.82 664.7,125.66 666,124.14 667.29,125.5 668.58,123.98 669.88,125.79 671.17,124.08 672.46,125.7 673.75,124.36 675.04,125.57 676.32,123.86 677.61,125.29 678.89,123.73 680.18,124.99 681.46,123.34 682.75,124.66 684.03,122.83 685.31,124.32 686.59,123.1 687.86,124.6 689.14,122.68 690.41,124.62 691.69,122.88 692.96,124.58 694.23,122.58 695.5,124.11 696.77,122.43 698.03,124.06 699.3,122.07" fill="none" stroke="#000" stroke-width="2.1" stroke-linejoin="round"/>
<polyline points="490.6,268 491.1,245 492.2,222 493.3,204.9" fill="none" stroke="#ff0000" stroke-width="2.2" stroke-linejoin="round"/>
<line x1="489.6" y1="222" x2="489.6" y2="262" stroke="#7a0000" stroke-width="1"/>
<polyline points="493.12,204.54 493.17,204.77 493.25,202.15 493.35,202.25 493.47,199.72 493.62,199.79 493.79,196.93 493.98,197.13 494.2,194.24 494.44,194.35 494.7,191.14 494.99,191.59 495.3,188.34 495.62,188.96 495.97,185.96 496.35,186.13 496.74,183.53 497.15,183.9 497.59,181.45 498.04,181.85 498.52,179.06 499.01,179.4 499.52,176.47 500.05,177.03 500.61,174.24 501.18,174.33 501.76,171.45 502.37,171.9 502.99,169.02 503.64,169.46 504.3,166.99 504.97,167.34 505.67,164.61 506.37,165.18 507.1,162.69 507.84,163.62 508.6,160.8 509.37,161.67 510.16,159.21 510.97,159.59 511.78,156.78 512.62,157.24 513.46,154.93 514.33,155.22 515.2,152.73 516.09,153.26 516.99,150.81 517.9,151.57 518.83,149.27 519.77,149.6 520.72,147.66 521.69,148.15 522.66,146.24 523.65,147.09 524.65,144.44 525.66,145.2 526.68,143.06 527.71,143.72 528.75,141.5 529.8,142.07 530.86,139.7 531.93,140.55 533.01,138.25 534.1,138.88 535.19,136.88 536.3,137.58 537.41,135.61 538.54,136.77 539.67,134.68 540.8,135.51 541.95,133.82 543.1,134.68 544.26,132.62 545.43,133.81 546.6,131.62 547.78,132.67 548.97,130.34 550.16,131.34 551.36,129.32 552.56,130.29 553.77,128.18 554.99,129.36 556.21,127.4 557.43,128.7 558.66,127.01 559.9,128.21 561.14,126.32 562.38,127.52 563.63,125.95 564.89,127.15 566.14,125.16 567.4,126.74 568.67,124.7 569.93,126.01 571.2,123.79 572.48,125.03 573.75,123.3 575.03,124.4 576.31,122.67 577.59,124.28 578.88,122.36 580.16,124.14 581.45,122.32 582.74,124 584.03,122.25 585.32,123.57 586.61,122.05 587.91,123.26 589.21,121.92 590.5,123.22 591.8,121.54 593.1,122.48 594.4,121.08 595.71,122.45 597.01,120.73 598.31,121.82 599.62,120.28 600.93,121.8 602.23,120.28 603.54,122.1 604.85,120.35 606.16,122.27 607.47,120.48 608.78,122.16 610.09,120.61 611.4,121.96 612.72,120.14 614.03,121.64 615.34,120.01 616.66,121.35 617.97,119.37 619.28,120.83 620.6,119.52 621.91,121.02 623.23,119.34 624.54,120.99 625.85,119.78 627.17,121.17 628.48,119.75 629.8,121.52 631.11,119.91 632.42,121.33 633.74,119.83 635.05,121.18 636.36,119.64 637.67,120.86 638.98,119.41 640.3,121.1 641.6,119.35 642.91,120.99 644.22,119.53 645.53,121.11 646.84,119.48 648.14,121.35 649.45,119.85 650.75,121.52 652.06,120 653.36,121.84 654.66,120.28 655.96,121.46 657.26,119.91 658.55,121.68 659.85,119.85 661.15,121.3 662.44,119.61 663.73,121.09 665.02,119.79 666.31,121.15 667.6,119.77 668.88,121.37 670.17,120.13 671.45,121.74 672.73,119.98 674.01,121.68 675.28,120.13 676.56,121.68 677.83,119.92 679.1,121.54 680.37,119.91 681.63,121.06 682.9,119.7 684.16,120.88 685.42,119.28 686.67,120.55 687.93,119.17 689.18,120.56 690.43,118.97 691.68,120.5 692.92,118.89 694.16,120.63 695.4,118.99 696.64,120.47 697.87,118.63 699.1,120.29" fill="none" stroke="#ff0000" stroke-width="2.1" stroke-linejoin="round"/>
<polyline points="657.8,132.2 657.8,170.6 611.6,170.6" fill="none" stroke="#000" stroke-width="2" stroke-linejoin="round"/>
<text transform="matrix(1.02,0,0,1,666.81,159.3)" font-size="14.54">50 pA</text>
<text transform="matrix(1.07,0,0,1,627.84,190.06)" font-size="14.12">200 ms</text>
<line x1="536.2" y1="222.1" x2="574.4" y2="222.1" stroke="#000" stroke-width="2"/>
<line x1="536.2" y1="242.1" x2="574.4" y2="242.1" stroke="#ff0000" stroke-width="2"/>
<text transform="matrix(1.1,0,0,1,578.84,227.55)" font-size="15.39">Control</text>
<text transform="matrix(0.95,0,0,1,580.19,247.94)" font-size="16.67">10</text>
<text transform="matrix(1.23,0,0,1,601.89,248.02)" font-size="13.47">μ</text>
<text transform="matrix(1.15,0,0,1,609.44,247.9)" font-size="16.57">M</text>
<text transform="matrix(1.02,0,0,1,628.34,247.9)" font-size="16.57">CBD</text>
<rect x="542.1" y="349.4" width="52.1" height="144.8" fill="#000"/>
<rect x="627.9" y="408.4" width="51.9" height="85.8" fill="#ff0000"/>
<line x1="568.1" y1="350" x2="568.1" y2="329.4" stroke="#000" stroke-width="2"/>
<line x1="563.9" y1="329.4" x2="572.8" y2="329.4" stroke="#000" stroke-width="2"/>
<line x1="653.6" y1="409" x2="653.6" y2="392" stroke="#ff0000" stroke-width="2"/>
<line x1="649.5" y1="392" x2="657.8" y2="392" stroke="#ff0000" stroke-width="2"/>
<path d="M653.5,382.4 L653.5,379 M653.5,382.4 L656.73,381.35 M653.5,382.4 L655.5,385.15 M653.5,382.4 L651.5,385.15 M653.5,382.4 L650.27,381.35" stroke="#000" stroke-width="1.45" stroke-linecap="round" fill="none"/>
<line x1="525.5" y1="289.2" x2="525.5" y2="495.2" stroke="#000" stroke-width="2"/>
<line x1="524.5" y1="494.2" x2="696.4" y2="494.2" stroke="#000" stroke-width="2"/>
<line x1="520.3" y1="494.2" x2="525.5" y2="494.2" stroke="#000" stroke-width="2"/>
<text transform="matrix(1.06,0,0,1,496.74,498.36)" font-size="14.27">0.0</text>
<line x1="520.3" y1="443.17" x2="525.5" y2="443.17" stroke="#000" stroke-width="2"/>
<text transform="matrix(1.06,0,0,1,496.89,447.33)" font-size="14.27">0.1</text>
<line x1="520.3" y1="392.14" x2="525.5" y2="392.14" stroke="#000" stroke-width="2"/>
<text transform="matrix(1.06,0,0,1,496.91,396.3)" font-size="14.27">0.2</text>
<line x1="520.3" y1="341.11" x2="525.5" y2="341.11" stroke="#000" stroke-width="2"/>
<text transform="matrix(1.06,0,0,1,496.81,345.27)" font-size="14.27">0.3</text>
<line x1="520.3" y1="290.08" x2="525.5" y2="290.08" stroke="#000" stroke-width="2"/>
<text transform="matrix(1.06,0,0,1,496.59,294.24)" font-size="14.27">0.4</text>
<line x1="567.7" y1="494.2" x2="567.7" y2="498.6" stroke="#000" stroke-width="2"/>
<line x1="653.7" y1="494.2" x2="653.7" y2="498.6" stroke="#000" stroke-width="2"/>
<text transform="matrix(1.09,0,0,1,543.02,513.06)" font-size="14.16">Control</text>
<text transform="matrix(1.02,0,0,1,637.34,513.06)" font-size="14.69">CBD</text>
<text transform="matrix(1.1,0,0,1,578.91,303.8)" font-size="17.59">I</text>
<text transform="matrix(1.16,0,0,1,583.7,311.11)" font-size="9.46">NaL</text>
<text transform="matrix(1.05,0,0,1,608.22,303.8)" font-size="17.59">at -20 mV</text>
<text transform="matrix(1.02,0,0,1,603.46,325.8)" font-size="14.83">N=5, P&lt;0.05</text>
<text transform="rotate(-90) matrix(1,0,0,1,-482.84,482.6)" font-size="17.73">I</text>
<text transform="rotate(-90) matrix(1.18,0,0,1,-477.67,489.51)" font-size="9.03">NaL</text>
<text transform="rotate(-90) matrix(1.11,0,0,1,-453.19,482.9)" font-size="16.84">amplitude (pA/pF)</text>
</svg>
</body></html>
